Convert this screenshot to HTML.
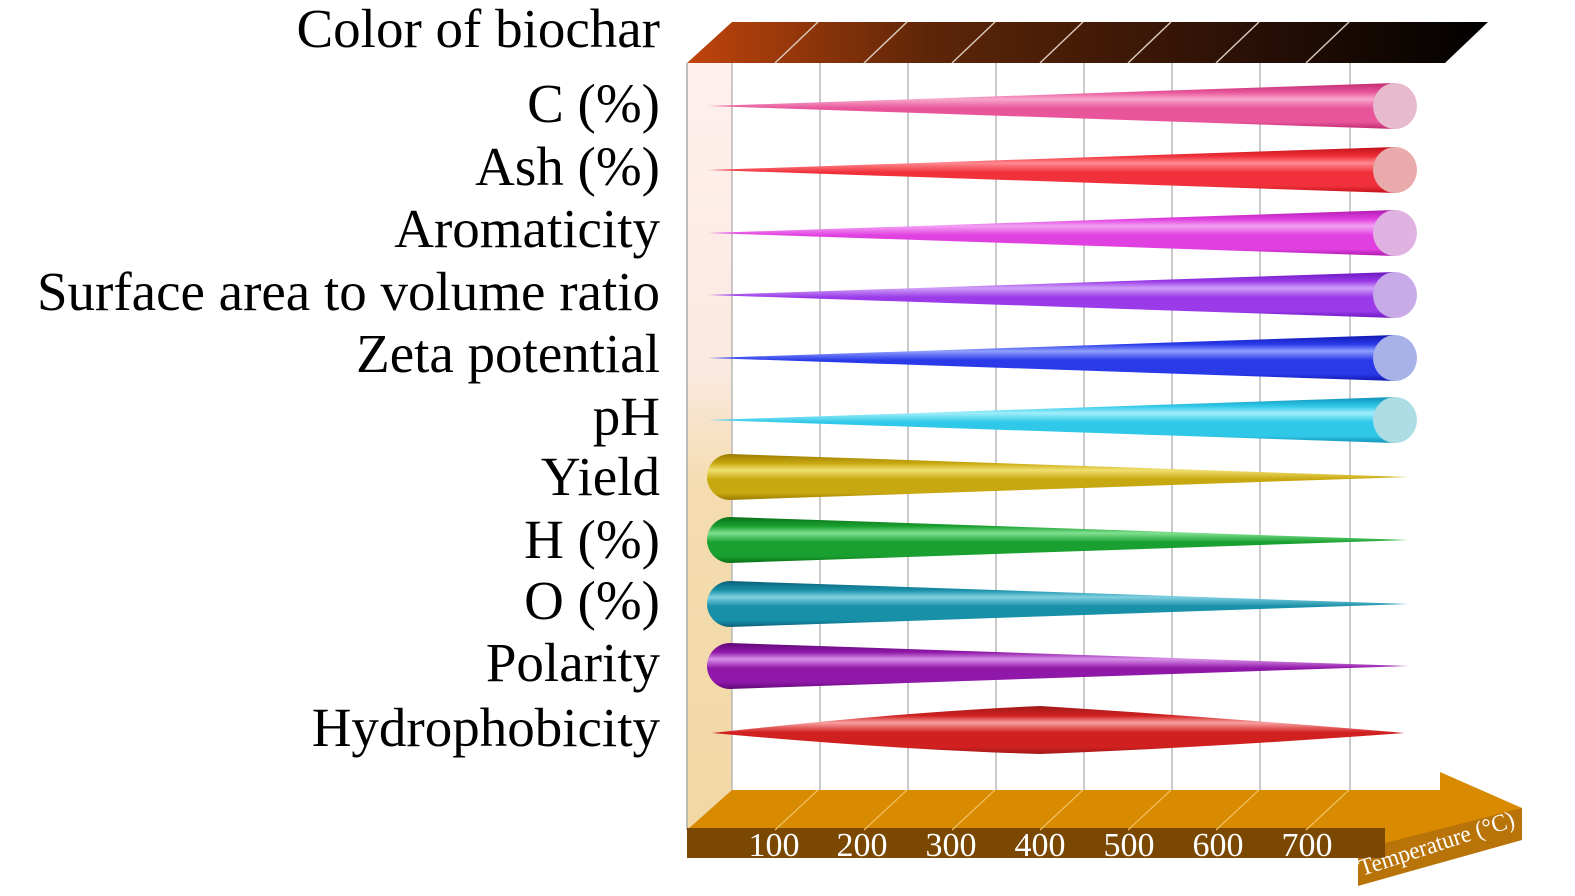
<!DOCTYPE html>
<html><head><style>
html,body{margin:0;padding:0;background:#fff;}
svg{display:block;}
text{font-family:"Liberation Serif",serif;}
</style></head><body>
<svg width="1575" height="896" viewBox="0 0 1575 896" xmlns="http://www.w3.org/2000/svg">
<defs>
<linearGradient id="top" x1="0" x2="1" y1="0" y2="0">
<stop offset="0" stop-color="#c0440c"/><stop offset="0.3" stop-color="#5e2608"/><stop offset="0.7" stop-color="#2a1006"/><stop offset="1" stop-color="#000"/></linearGradient>
<linearGradient id="wall" x1="0" x2="0" y1="0" y2="1">
<stop offset="0" stop-color="#fff0ee"/><stop offset="0.4" stop-color="#fbe9e0"/><stop offset="0.55" stop-color="#f4dcb0"/><stop offset="1" stop-color="#f2d8a4"/></linearGradient>
</defs>
<polygon points="687,63 732,22 1488,22 1445,63" fill="url(#top)"/>
<g stroke="#d8c8b8" stroke-width="1.5">
<line x1="775" y1="63" x2="818" y2="22"/><line x1="864" y1="63" x2="907" y2="22"/><line x1="952" y1="63" x2="995" y2="22"/><line x1="1040" y1="63" x2="1083" y2="22"/><line x1="1128" y1="63" x2="1171" y2="22"/><line x1="1216" y1="63" x2="1259" y2="22"/><line x1="1306" y1="63" x2="1349" y2="22"/>
</g>
<rect x="687" y="63" width="45" height="767" fill="url(#wall)"/>
<line x1="687" y1="63" x2="687" y2="830" stroke="#aaa" stroke-width="1.5"/>
<g stroke="#b8b8b8" stroke-width="1.5">
<line x1="732" y1="63" x2="732" y2="790"/><line x1="820" y1="63" x2="820" y2="790"/><line x1="908" y1="63" x2="908" y2="790"/><line x1="996" y1="63" x2="996" y2="790"/><line x1="1084" y1="63" x2="1084" y2="790"/><line x1="1172" y1="63" x2="1172" y2="790"/><line x1="1260" y1="63" x2="1260" y2="790"/><line x1="1350" y1="63" x2="1350" y2="790"/>
</g>
<polygon points="687,830 732,790 1440,790 1440,772 1522,808 1385,850 1385,830" fill="#d88a00"/>
<polygon points="1522,808 1522,840 1358,886 1358,850" fill="#b87408"/>
<rect x="687" y="828" width="698" height="30" fill="#7a4800"/>
<polygon points="1385,828 1358,850 1358,858 1385,858" fill="#7a4800"/>
<g stroke="#f0c060" stroke-width="1.2">
<line x1="775" y1="830" x2="818" y2="790"/><line x1="864" y1="830" x2="907" y2="790"/><line x1="952" y1="830" x2="995" y2="790"/><line x1="1040" y1="830" x2="1083" y2="790"/><line x1="1128" y1="830" x2="1171" y2="790"/><line x1="1216" y1="830" x2="1259" y2="790"/><line x1="1306" y1="830" x2="1349" y2="790"/>
</g>
<g fill="#fff" font-size="34" text-anchor="middle">
<text x="774" y="856">100</text><text x="862" y="856">200</text><text x="951" y="856">300</text><text x="1040" y="856">400</text><text x="1129" y="856">500</text><text x="1218" y="856">600</text><text x="1307" y="856">700</text>
</g>
<text x="1362" y="876" font-size="24" fill="#fff" textLength="162" lengthAdjust="spacingAndGlyphs" transform="rotate(-18 1362 876)">Temperature (°C)</text>
<script>
(function(){
var ns="http://www.w3.org/2000/svg",svg=document.querySelector('svg'),defs=svg.querySelector('defs');
function grad(id,c,l,d){var g=document.createElementNS(ns,'linearGradient');g.setAttribute('id',id);g.setAttribute('x1','0');g.setAttribute('x2','0');g.setAttribute('y1','0');g.setAttribute('y2','1');
[[0,d],[0.2,c],[0.35,l],[0.55,c],[0.85,c],[1,d]].forEach(function(s){var e=document.createElementNS(ns,'stop');e.setAttribute('offset',s[0]);e.setAttribute('stop-color',s[1]);g.appendChild(e);});defs.appendChild(g);}
function el(t,a){var e=document.createElementNS(ns,t);for(var k in a)e.setAttribute(k,a[k]);svg.appendChild(e);return e;}
var inc=[[106,'#e8559a','#f7a8cc','#c02a70','#e8bacd'],[170,'#f0303a','#ff8a90','#c0101a','#e8aaaa'],[233,'#e040e0','#f4a0f4','#b018b0','#e0b2e2'],[295,'#9a3ae8','#d0a0f8','#6a18c0','#c8aae8'],[358,'#2a3ae8','#90a0ff','#1018b0','#a8b2e8'],[420,'#30c8e8','#a0eefa','#1090b8','#acdce4']];
inc.forEach(function(r,i){grad('gi'+i,r[1],r[2],r[3]);var y=r[0];
el('polygon',{points:'708,'+y+' 1395,'+(y-23)+' 1395,'+(y+23),fill:'url(#gi'+i+')'});
el('ellipse',{cx:1395,cy:y,rx:22,ry:23,fill:r[4]});});
var dec=[[477,'#c8a810','#f0e070','#9a7c00'],[540,'#1aa030','#80e090','#0a7018'],[604,'#1890a8','#80d0e0','#0a6078'],[666,'#9018a8','#d890e8','#600878']];
dec.forEach(function(r,i){grad('gd'+i,r[1],r[2],r[3]);var y=r[0];
el('path',{d:'M730,'+(y-23)+' L1408,'+y+' L730,'+(y+23)+' A23,23 0 0 1 730,'+(y-23)+' Z',fill:'url(#gd'+i+')'});});
grad('gh','#d02020','#f8a0a0','#a01818');
el('path',{d:'M712,733 Q900,712 1040,706 Q1200,716 1405,733 Q1200,748 1040,754 Q900,750 712,733 Z',fill:'url(#gh)'});
})();
</script>
<g font-size="55" text-anchor="end" fill="#000">
<text x="660" y="47">Color of biochar</text>
<text x="660" y="122">C (%)</text>
<text x="660" y="185">Ash (%)</text>
<text x="660" y="247">Aromaticity</text>
<text x="660" y="310">Surface area to volume ratio</text>
<text x="660" y="372">Zeta potential</text>
<text x="660" y="435">pH</text>
<text x="660" y="495">Yield</text>
<text x="660" y="558">H (%)</text>
<text x="660" y="619">O (%)</text>
<text x="660" y="681">Polarity</text>
<text x="660" y="746">Hydrophobicity</text>
</g>
</svg>
</body></html>
